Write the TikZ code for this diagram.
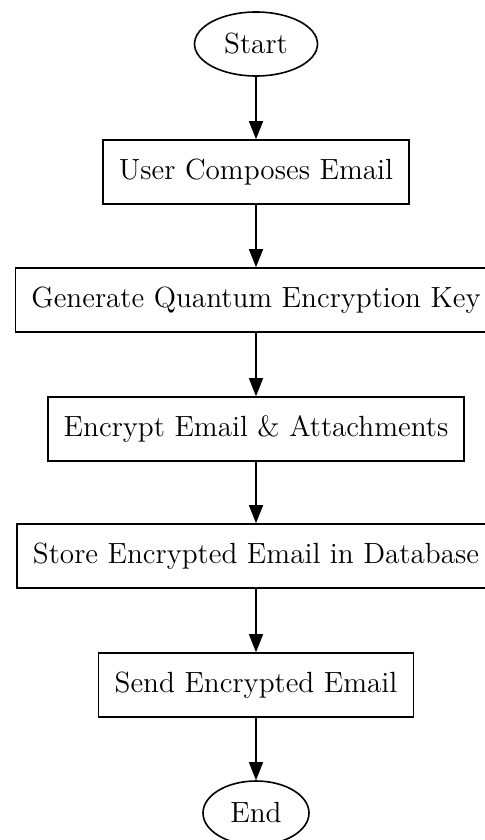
\documentclass[tikz,border=0pt]{standalone}
\usetikzlibrary{arrows.meta, shapes.geometric}
\tikzset{
	stepbox/.style={draw, rectangle, thick, minimum height=32pt, inner xsep=8pt, font=\fontsize{14.6}{17}\selectfont},
	terminal/.style={draw, ellipse, thick, minimum width=61.5pt, minimum height=32pt, inner sep=1pt, font=\fontsize{14.6}{17}\selectfont},
	flow/.style={thick, -{Triangle[length=9pt,width=7pt]}}
}
\begin{document}
\begin{tikzpicture}[x=0.5pt, y=-0.5pt]
		\useasboundingbox (0,0) rectangle (485,840);
		%draw nodes
		\node[terminal] (start) at (256,44) {Start};
		\node[stepbox] (compose) at (256,172) {User Composes Email};
		\node[stepbox] (keygen) at (256,300) {Generate Quantum Encryption Key};
		\node[stepbox] (encrypt) at (256,429) {Encrypt Email \& Attachments};
		\node[stepbox] (store) at (256,556) {Store Encrypted Email in Database};
		\node[stepbox] (send) at (256,685) {Send Encrypted Email};
		\node[terminal, minimum width=53pt] (end) at (256,813) {End};
		%draw arrows
		\draw [flow] (start) -- (compose);
		\draw [flow] (compose) -- (keygen);
		\draw [flow] (keygen) -- (encrypt);
		\draw [flow] (encrypt) -- (store);
		\draw [flow] (store) -- (send);
		\draw [flow] (send) -- (end);
	\end{tikzpicture}
\end{document}
